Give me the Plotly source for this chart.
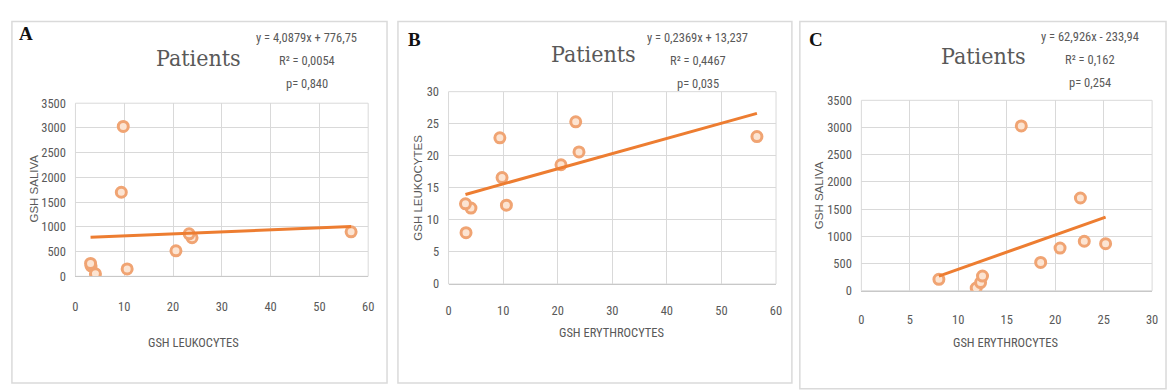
import plotly.graph_objects as go

# ---------------- data ----------------
# Panel A: GSH leukocytes (x) vs GSH saliva (y)
a_x = [3.2, 4.1, 10.6, 3.1, 9.8, 20.6, 23.9, 9.4, 56.5, 23.3]
a_y = [210, 50, 150, 260, 3030, 515, 780, 1700, 900, 860]
# Panel B: GSH erythrocytes (x) vs GSH leukocytes (y)
b_x = [3.2, 4.1, 10.6, 3.1, 9.8, 20.6, 23.9, 9.4, 56.5, 23.3]
b_y = [8.0, 11.85, 12.3, 12.5, 16.6, 18.6, 20.6, 22.8, 23.0, 25.3]
# Panel C: GSH erythrocytes (x) vs GSH saliva (y)
c_x = [8.0, 11.85, 12.3, 12.5, 16.5, 18.5, 20.5, 22.6, 23.0, 25.2]
c_y = [210, 50, 150, 270, 3030, 520, 785, 1705, 910, 865]

# trend-line coefficients (slope, intercept) as printed on the chart
a_fit = (4.0879, 776.75)
b_fit = (0.2369, 13.237)
c_fit = (62.926, -233.94)

panel_letters = ["A", "B", "C"]
chart_titles = ["Patients", "Patients", "Patients"]
equations = [
    ["y = 4,0879x + 776,75", "R² = 0,0054", "p= 0,840"],
    ["y = 0,2369x + 13,237", "R² = 0,4467", "p= 0,035"],
    ["y = 62,926x - 233,94", "R² = 0,162", "p= 0,254"],
]
x_titles = ["GSH LEUKOCYTES", "GSH ERYTHROCYTES", "GSH ERYTHROCYTES"]
y_titles = ["GSH SALIVA", "GSH LEUKOCYTES", "GSH SALIVA"]
x_ranges = [(0, 60, 10), (0, 60, 10), (0, 30, 5)]
y_ranges = [(0, 3500, 500), (0, 30, 5), (0, 3500, 500)]

# ---------------- layout geometry (pixels) ----------------
W, H = 1174, 392
def px(x):
    return x / W
def py(y):
    return 1 - y / H

boxes = [(9, 14, 387, 390), (398, 14, 795, 390), (803, 14, 1172, 396)]
plots = [(73, 99, 368, 279), (449, 87, 779, 287), (865, 96, 1158, 294)]
letter_pos = [(23, 26), (415, 33), (819, 33)]
title_pos = [(197, 52), (595, 48), (988, 50)]
eq_pos = [(306, 31), (700, 31), (1095, 30)]
xt_pos = [(192, 348), (613, 337), (1010, 348)]
yt_pos = [(31, 188), (418, 187), (822, 195)]
x_ticklen = [19, 15, 17]

GRID = "#D9D9D9"
TXT = "#595959"
ORANGE = "#ED7D31"
NARROW = "Roboto Condensed, DejaVu Sans Condensed, Liberation Sans Narrow, Liberation Sans"
TICKFONT = dict(family=NARROW, size=12.5, color=TXT)

fig = go.Figure()
data = [(a_x, a_y, a_fit), (b_x, b_y, b_fit), (c_x, c_y, c_fit)]
shapes, annotations = [], []
layout = {}

for i, (xs, ys, fit) in enumerate(data):
    sfx = "" if i == 0 else str(i + 1)
    xa, ya = "x" + sfx, "y" + sfx
    fig.add_trace(go.Scatter(
        x=xs, y=ys, mode="markers", xaxis=xa, yaxis=ya, showlegend=False,
        marker=dict(symbol="circle", size=10, color="#FCE4D2",
                    line=dict(color="#F0A473", width=3)),
    ))
    x0, x1 = min(xs), max(xs)
    fig.add_trace(go.Scatter(
        x=[x0, x1], y=[fit[0] * x0 + fit[1], fit[0] * x1 + fit[1]],
        mode="lines", xaxis=xa, yaxis=ya, showlegend=False,
        line=dict(color=ORANGE, width=3),
    ))
    l, t, r, b = plots[i]
    xr, yr = x_ranges[i], y_ranges[i]
    layout["xaxis" + sfx] = dict(
        domain=[px(l), px(r)], anchor=ya, range=[xr[0], xr[1]], dtick=xr[2], tick0=0,
        showgrid=True, gridcolor=GRID, gridwidth=1, zeroline=False,
        showline=True, linecolor="#C8C8C8", linewidth=1, mirror=False,
        ticks="outside", ticklen=x_ticklen[i], tickcolor="rgba(0,0,0,0)",
        tickfont=TICKFONT, fixedrange=True,
    )
    layout["yaxis" + sfx] = dict(
        domain=[py(b), py(t)], anchor=xa, range=[yr[0], yr[1]], dtick=yr[2], tick0=0,
        showgrid=True, gridcolor=GRID, gridwidth=1, zeroline=False,
        showline=False, ticks="outside", ticklen=6, tickcolor="rgba(0,0,0,0)",
        tickfont=TICKFONT, fixedrange=True,
    )
    shapes.append(dict(type="rect", xref="paper", yref="paper",
                       x0=px(l), x1=px(r), y0=py(b), y1=py(t),
                       line=dict(color=GRID, width=1), layer="below"))
    bl, bt, br, bb = boxes[i]
    shapes.append(dict(type="rect", xref="paper", yref="paper",
                       x0=px(bl), x1=px(br), y0=py(bb), y1=py(bt),
                       line=dict(color="#DADADA", width=1.5), layer="below"))
    annotations.append(dict(text="<b>%s</b>" % panel_letters[i], xref="paper", yref="paper",
                            x=px(letter_pos[i][0]), y=py(letter_pos[i][1]),
                            xanchor="center", yanchor="middle", showarrow=False,
                            font=dict(family="Liberation Serif", size=19, color="#111111")))
    annotations.append(dict(text=chart_titles[i], xref="paper", yref="paper",
                            x=px(title_pos[i][0]), y=py(title_pos[i][1]),
                            xanchor="center", yanchor="middle", showarrow=False,
                            font=dict(family="DejaVu Serif Condensed, Liberation Serif",
                                      size=23, color=TXT)))
    for k, line in enumerate(equations[i]):
        annotations.append(dict(text=line, xref="paper", yref="paper",
                                x=px(eq_pos[i][0]), y=py(eq_pos[i][1] + 23.5 * k),
                                xanchor="center", yanchor="middle", showarrow=False,
                                font=dict(family=NARROW, size=12.5, color=TXT)))
    annotations.append(dict(text=x_titles[i], xref="paper", yref="paper",
                            x=px(xt_pos[i][0]), y=py(xt_pos[i][1]),
                            xanchor="center", yanchor="middle", showarrow=False,
                            font=dict(family=NARROW, size=12.5, color=TXT)))
    annotations.append(dict(text=y_titles[i], xref="paper", yref="paper",
                            x=px(yt_pos[i][0]), y=py(yt_pos[i][1]), textangle=-90,
                            xanchor="center", yanchor="middle", showarrow=False,
                            font=dict(family="Liberation Sans, Arial", size=11.5, color=TXT)))

fig.update_layout(
    width=W, height=H, margin=dict(l=0, r=0, t=0, b=0),
    paper_bgcolor="white", plot_bgcolor="white",
    shapes=shapes, annotations=annotations, **layout,
)
fig.write_html("out.html", config={"displayModeBar": False},
               post_script="document.body.style.margin='0';document.body.style.overflow='hidden';")
